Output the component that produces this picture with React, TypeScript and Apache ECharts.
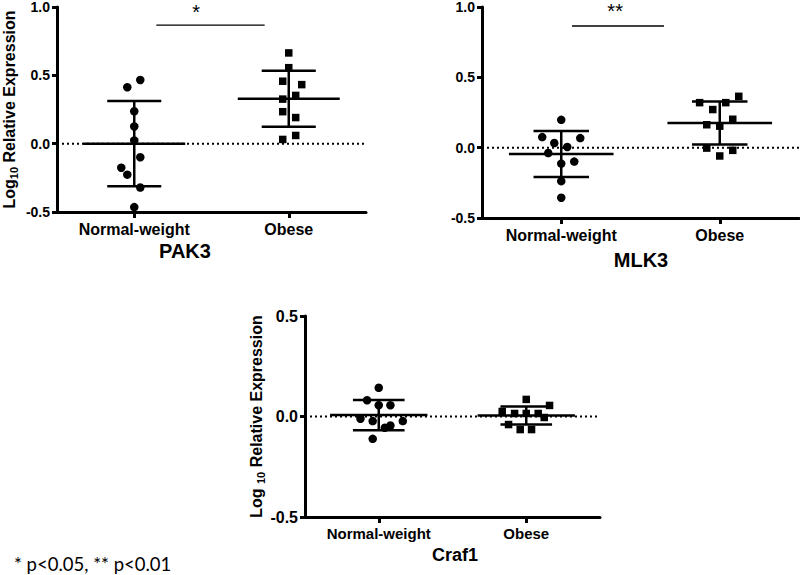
import React, { useEffect, useRef } from "react";
import * as echarts from "echarts";

const CATEGORIES = ["Normal-weight", "Obese"];
const PANELS = ["PAK3", "MLK3", "Craf1"];

// values (log10 relative expression)
const PAK3_NORMAL = [0.413, 0.466, 0.237, 0.126, 0.024, -0.099, -0.176, -0.227, -0.321, -0.464];
const PAK3_NORMAL_X = [-0.045, 0.039, 0, 0, 0, 0.039, -0.084, -0.045, 0.039, 0];
const PAK3_OBESE = [0.664, 0.556, 0.457, 0.432, 0.353, 0.326, 0.234, 0.191, 0.06, 0.031];
const PAK3_OBESE_X = [0, 0, -0.039, 0.084, 0.045, -0.039, -0.039, 0.045, 0.045, -0.039];
const PAK3_MEAN = [0.0, 0.329];
const PAK3_SD = [0.312, 0.205];

const MLK3_NORMAL = [0.198, 0.075, 0.068, 0.033, 0.005, -0.038, -0.113, -0.099, -0.238, -0.356];
const MLK3_NORMAL_X = [0, -0.12, 0.12, -0.044, 0.038, -0.082, 0, 0.082, 0, 0];
const MLK3_OBESE = [0.32, 0.32, 0.365, 0.271, 0.202, 0.163, 0.153, -0.003, -0.019, -0.059];
const MLK3_OBESE_X = [-0.127, 0.038, 0.12, -0.044, 0.082, -0.082, 0, -0.082, 0.082, 0];
const MLK3_MEAN = [-0.045, 0.175];
const MLK3_SD = [0.163, 0.153];

const CRAF1_NORMAL = [0.143, 0.081, 0.056, 0.056, -0.011, -0.023, -0.023, -0.056, -0.045, -0.111];
const CRAF1_NORMAL_X = [0, -0.079, 0, 0.079, -0.124, -0.041, 0.163, 0.041, 0.079, -0.041];
const CRAF1_OBESE = [0.085, 0.055, 0.025, 0.015, 0.015, 0.015, -0.005, -0.04, -0.065, -0.065];
const CRAF1_OBESE_X = [0, 0.158, -0.163, -0.079, 0, 0.081, 0.122, -0.12, -0.041, 0.036];
const CRAF1_MEAN = [0.007, 0.005];
const CRAF1_SD = [0.075, 0.045];

// significance bars: [x start, x end, y, text x]
const SIG_PAK3 = [1.143, 1.844, 0.868, 1.4];
const SIG_MLK3 = [1.068, 1.648, 0.865, 1.34];
const SIG_TEXT = ["*", "**"];

const Y_MAX = [1.0, 1.0, 0.5];
const FOOTNOTE = "* p<0.05, ** p<0.01";

const FONT = "'Liberation Sans', Arial, sans-serif";

function pts(values: number[], offs: number[], center: number) {
  return values.map((v, i) => [center + offs[i], v]);
}

const MEAN_HALF = 0.33;
const CAP_HALF = 0.175;

function meanSdRender(params: any, api: any) {
  const x = api.value(0);
  const m = api.value(1);
  const s = api.value(2);
  const c = (xx: number, yy: number) => api.coord([xx, yy]);
  const st = { stroke: "#000", lineWidth: 2.5 };
  const a1 = c(x - MEAN_HALF, m), a2 = c(x + MEAN_HALF, m);
  const t1 = c(x - CAP_HALF, m + s), t2 = c(x + CAP_HALF, m + s);
  const b1 = c(x - CAP_HALF, m - s), b2 = c(x + CAP_HALF, m - s);
  const v1 = c(x, m + s), v2 = c(x, m - s);
  return {
    type: "group",
    children: [
      { type: "line", shape: { x1: a1[0], y1: a1[1], x2: a2[0], y2: a2[1] }, style: st },
      { type: "line", shape: { x1: t1[0], y1: t1[1], x2: t2[0], y2: t2[1] }, style: st },
      { type: "line", shape: { x1: b1[0], y1: b1[1], x2: b2[0], y2: b2[1] }, style: st },
      { type: "line", shape: { x1: v1[0], y1: v1[1], x2: v2[0], y2: v2[1] }, style: st },
    ],
  };
}

function sigRender(text: string, lift: number) {
  return (params: any, api: any) => {
    const a = api.coord([api.value(0), api.value(2)]);
    const b = api.coord([api.value(1), api.value(2)]);
    const t = api.coord([api.value(3), api.value(2)]);
    return {
      type: "group",
      children: [
        { type: "line", shape: { x1: a[0], y1: a[1], x2: b[0], y2: a[1] }, style: { stroke: "#000", lineWidth: 1.3 } },
        {
          type: "text",
          x: t[0],
          y: a[1] - lift,
          style: { text, fill: "#000", font: `20px ${FONT}`, align: "center", verticalAlign: "bottom" },
        },
      ],
    };
  };
}

export default function App() {
  const ref = useRef<HTMLDivElement>(null);
  useEffect(() => {
    if (!ref.current) return;
    const chart = echarts.init(ref.current, undefined, { renderer: "svg" });
    const grids = [
      { left: 55, top: 7, width: 311, height: 205 },
      { left: 482, top: 7, width: 317, height: 211 },
      { left: 305, top: 316, width: 295, height: 201 },
    ];
    const tickFont = [14, 14, 16];
    const catFont = [16, 16, 15];
    const xAxis = grids.map((_, i) => ({
      gridIndex: i,
      type: "value",
      min: 0.5,
      max: 2.5,
      axisLine: { show: true, onZero: false, lineStyle: { color: "#000", width: 3 } },
      axisTick: { show: true, customValues: [1, 2], length: 6, lineStyle: { color: "#000", width: 3 } },
      axisLabel: {
        show: true,
        customValues: [1, 2],
        formatter: (v: number) => CATEGORIES[Math.round(v) - 1],
        color: "#000",
        fontWeight: "bold",
        fontSize: catFont[i],
        fontFamily: FONT,
        margin: 9,
      },
      splitLine: { show: false },
    }));
    const yName = [
      "{a|Log}{b|10}{a| Relative Expression}",
      "",
      "{a|Log }{b|10}{a| Relative Expression}",
    ];
    const yGap = [38, 0, 31];
    const yAxis = grids.map((_, i) => ({
      gridIndex: i,
      type: "value",
      min: -0.5,
      max: Y_MAX[i],
      interval: 0.5,
      name: yName[i],
      nameLocation: "middle",
      nameRotate: 90,
      nameGap: yGap[i],
      nameTextStyle: {
        rich: {
          a: { fontSize: 16, fontWeight: "bold", fontFamily: FONT, color: "#000", lineHeight: 20 },
          b: { fontSize: 11, fontWeight: "bold", fontFamily: FONT, color: "#000", lineHeight: 11, verticalAlign: "bottom" },
        },
      },
      axisLine: { show: true, onZero: false, lineStyle: { color: "#000", width: 3 } },
      axisTick: { show: true, length: 5, lineStyle: { color: "#000", width: 3 } },
      axisLabel: {
        show: true,
        formatter: (v: number) => v.toFixed(1),
        color: "#000",
        fontWeight: "bold",
        fontSize: tickFont[i],
        fontFamily: FONT,
        margin: 7,
      },
      splitLine: { show: false },
    }));

    const groups = [
      [PAK3_NORMAL, PAK3_NORMAL_X, PAK3_OBESE, PAK3_OBESE_X, PAK3_MEAN, PAK3_SD],
      [MLK3_NORMAL, MLK3_NORMAL_X, MLK3_OBESE, MLK3_OBESE_X, MLK3_MEAN, MLK3_SD],
      [CRAF1_NORMAL, CRAF1_NORMAL_X, CRAF1_OBESE, CRAF1_OBESE_X, CRAF1_MEAN, CRAF1_SD],
    ];
    const series: any[] = [];
    groups.forEach((g, i) => {
      const [nv, nx, ov, ox, mean, sd] = g as number[][];
      series.push({
        type: "line",
        xAxisIndex: i,
        yAxisIndex: i,
        data: [[0.5, 0], [2.5, 0]],
        symbol: "none",
        lineStyle: { color: "#000", width: 2, type: [2, 3] },
        z: 1,
        silent: true,
      });
      series.push({
        type: "custom",
        xAxisIndex: i,
        yAxisIndex: i,
        data: [[1, mean[0], sd[0]], [2, mean[1], sd[1]]],
        encode: { x: 0, y: 1 },
        renderItem: meanSdRender,
        z: 2,
        silent: true,
      });
      series.push({
        type: "scatter",
        xAxisIndex: i,
        yAxisIndex: i,
        symbol: "circle",
        symbolSize: 8.5,
        itemStyle: { color: "#000", opacity: 1 },
        data: pts(nv, nx, 1),
        z: 3,
        silent: true,
      });
      series.push({
        type: "scatter",
        xAxisIndex: i,
        yAxisIndex: i,
        symbol: "rect",
        symbolSize: 7.5,
        itemStyle: { color: "#000", opacity: 1 },
        data: pts(ov, ox, 2),
        z: 3,
        silent: true,
      });
    });
    [SIG_PAK3, SIG_MLK3].forEach((s, i) => {
      series.push({
        type: "custom",
        xAxisIndex: i,
        yAxisIndex: i,
        data: [s],
        encode: { x: [0, 1, 3], y: 2 },
        renderItem: sigRender(SIG_TEXT[i], i === 0 ? 3 : 5),
        clip: false,
        z: 4,
        silent: true,
      });
    });

    const titlePos = [
      [185, 251, 20],
      [641, 260, 20],
      [455, 555, 18],
    ];
    const graphic: any[] = PANELS.map((p, i) => ({
      type: "text",
      x: titlePos[i][0],
      y: titlePos[i][1],
      style: {
        text: p,
        fill: "#000",
        font: `bold ${titlePos[i][2]}px ${FONT}`,
        align: "center",
        verticalAlign: "middle",
      },
    }));
    graphic.push({
      type: "text",
      x: 14,
      y: 564,
      style: {
        text: FOOTNOTE,
        fill: "#000",
        font: "18.5px Lato, 'Open Sans', sans-serif",
        align: "left",
        verticalAlign: "middle",
      },
    });

    chart.setOption({
      animation: false,
      backgroundColor: "#fff",
      grid: grids,
      xAxis,
      yAxis,
      series,
      graphic,
    });
    return () => chart.dispose();
  }, []);
  return (
    <div
      ref={ref}
      style={{ position: "absolute", left: 0, top: 0, width: 800, height: 575, background: "#fff" }}
    />
  );
}
